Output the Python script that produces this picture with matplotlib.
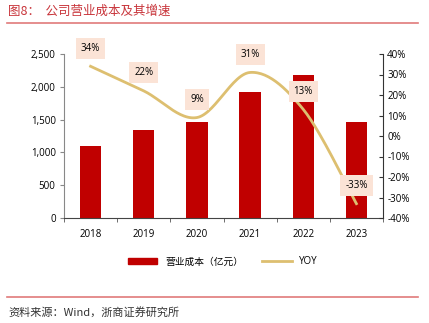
import matplotlib.pyplot as plt
import numpy as np
from matplotlib.lines import Line2D
from matplotlib.patches import Patch

plt.rcParams['font.family'] = ['Open Sans', 'Noto Sans CJK SC', 'DejaVu Sans']

years = ["2018", "2019", "2020", "2021", "2022", "2023"]
cost = [1100, 1340, 1460, 1920, 2180, 1460]
yoy = [34, 22, 9, 31, 13, -33]

bar_color = "#C00000"
line_color = "#DDBF70"
title_color = "#C8343A"


def smooth(x, y, n=30):
  """ Excel-like smoothed line through the points (Catmull-Rom bezier). """
  x = np.asarray(x, float)
  y = np.asarray(y, float)
  px, py = [], []
  for i in range(len(x) - 1):
    x0, y0 = (x[i - 1], y[i - 1]) if i > 0 else (x[i], y[i])
    x3, y3 = (x[i + 2], y[i + 2]) if i + 2 < len(x) else (x[i + 1], y[i + 1])
    c1x = x[i] + (x[i + 1] - x0) / 6
    c1y = y[i] + (y[i + 1] - y0) / 6
    c2x = x[i + 1] - (x3 - x[i]) / 6
    c2y = y[i + 1] - (y3 - y[i]) / 6
    t = np.linspace(0, 1, n)
    px.extend((1 - t) ** 3 * x[i] + 3 * (1 - t) ** 2 * t * c1x + 3 * (1 - t) * t ** 2 * c2x + t ** 3 * x[i + 1])
    py.extend((1 - t) ** 3 * y[i] + 3 * (1 - t) ** 2 * t * c1y + 3 * (1 - t) * t ** 2 * c2y + t ** 3 * y[i + 1])
  return px, py


fig = plt.figure(figsize=(4.29, 3.23), dpi=100)
ax = fig.add_axes([64 / 429, 1 - 218 / 323, 319 / 429, 164 / 323])
x = np.arange(len(years))

ax.bar(x, cost, width=0.4, color=bar_color, zorder=2)
ax.set_xlim(-0.5, len(years) - 0.5)
ax.set_ylim(0, 2500)
ax.set_yticks(range(0, 2501, 500))
ax.set_yticklabels([f"{v:,}" for v in range(0, 2501, 500)])
ax.set_xticks(x)
ax.set_xticklabels(years)
ax.set_xticks(np.arange(-0.5, len(years), 1), minor=True)
ax.tick_params(axis="x", which="major", length=0, pad=8, labelsize=7)
ax.tick_params(axis="x", which="minor", length=3, direction="out", color="#555555")
ax.tick_params(axis="y", length=3, direction="out", color="#888888", labelsize=7, pad=3)
for s in ["top", "right"]:
  ax.spines[s].set_visible(False)
ax.spines["left"].set_color("#888888")
ax.spines["bottom"].set_color("#444444")

ax2 = ax.twinx()
ax2.set_ylim(-40, 40)
ax2.set_yticks(range(-40, 41, 10))
ax2.set_yticklabels([f"{v}%" for v in range(-40, 41, 10)])
ax2.tick_params(axis="y", length=3, direction="in", color="#333333", labelsize=7, pad=3)
for s in ["top", "left", "bottom"]:
  ax2.spines[s].set_visible(False)
ax2.spines["right"].set_color("#333333")

sx, sy = smooth(x, yoy)
ax2.plot(sx, sy, color=line_color, lw=2, zorder=3)
for xi, v in zip(x, yoy):
  ax2.annotate(f"{v}%", (xi, v), xytext=(0, 13), textcoords="offset points",
               ha="center", va="center", fontsize=7,
               bbox=dict(boxstyle="square,pad=0.5", fc="#FBE3D6", ec="none"), zorder=4)

handles = [Patch(color=bar_color), Line2D([0], [0], color=line_color, lw=2)]
fig.legend(handles, ["营业成本（亿元）", "YOY"], loc="center", bbox_to_anchor=(0.52, 1 - 262 / 323),
           ncol=2, frameon=False, fontsize=7, handlelength=3, columnspacing=2, handleheight=0.6)

fig.text(8 / 429, 1 - 11 / 323, "图8：  公司营业成本及其增速", color=title_color, fontsize=9,
         va="center", ha="left", family=["Noto Sans CJK SC"])
fig.add_artist(Line2D([7 / 429, 418 / 429], [1 - 23 / 323] * 2, color="#E07A7A", lw=1.2))
fig.add_artist(Line2D([7 / 429, 418 / 429], [1 - 297 / 323] * 2, color="#E07A7A", lw=1.2))
fig.text(8 / 429, 1 - 312 / 323, "资料来源：Wind，浙商证券研究所", color="#333333", fontsize=8,
         va="center", ha="left", family=["Noto Sans CJK SC"])

fig.savefig("out.png", dpi=100)
